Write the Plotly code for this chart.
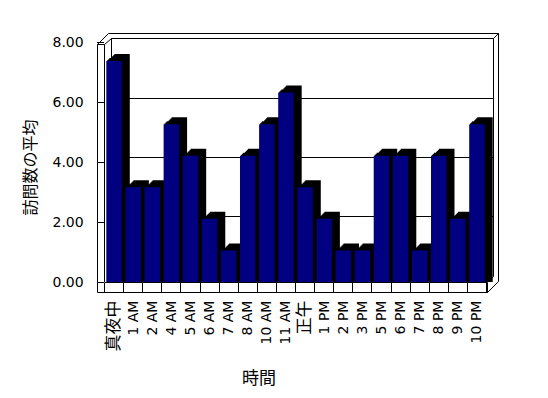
import plotly.graph_objects as go

# ---- data ----
categories = ["真夜中", "1 AM", "2 AM", "4 AM", "5 AM", "6 AM", "7 AM", "8 AM", "10 AM", "11 AM",
              "正午", "1 PM", "2 PM", "3 PM", "5 PM", "6 PM", "7 PM", "8 PM", "9 PM", "10 PM"]
avg_visits = [7.37, 3.16, 3.16, 5.26, 4.21, 2.11, 1.05, 4.21, 5.26, 6.32,
              3.16, 2.11, 1.05, 1.05, 4.21, 4.21, 1.05, 4.21, 2.11, 5.26]
y_ticks = [0, 2, 4, 6, 8]
x_title = "時間"
y_title = "訪問数の平均"

# ---- geometry (screen pixels) ----
OFF = 8                      # default page body margin
W, H = 548 - OFF, 398 - OFF  # figure size
X0, X1 = 104.5, 486.5        # front plane x extent
Y0, Y8 = 282, 42             # front plane: value 0 and value 8
DX, DY = 8, 7                # 3D extrusion offset
PXU = (Y0 - Y8) / 8.0        # pixels per unit
NCAT = len(categories)


def px(x):
    return (x - OFF) / W


def py(y):
    return (H - (y - OFF)) / H


FONT = "DejaVu Sans, Noto Sans CJK JP"
CJK = "Noto Sans CJK JP, DejaVu Sans"


def tick_label(s):
    if any(ord(c) > 0x2E80 for c in s):
        return f"<span style=\"font-family:'Noto Sans CJK JP';font-size:17px\">{s}</span>"
    return s


fig = go.Figure()
layout_axes = {}

# back wall subplot (grid only)
fig.add_trace(go.Scatter(x=[0], y=[0], mode="markers", marker=dict(opacity=0),
                         hoverinfo="skip", showlegend=False, xaxis="x", yaxis="y"))
back_top, back_bot = 39.1, 275.9
layout_axes["xaxis"] = dict(domain=[px(111), px(493)], range=[0, 1], showgrid=False, zeroline=False,
                            showticklabels=False, showline=False, ticks="", anchor="y", automargin=False)
layout_axes["yaxis"] = dict(domain=[py(back_bot), py(back_top)], range=[0, 8], tickvals=[2, 4, 6, 8],
                            showgrid=True, gridcolor="black", gridwidth=1, zeroline=False,
                            showticklabels=False, showline=False, ticks="", anchor="x", automargin=False)

# side / top extrusion: stacked shifted copies (subplots 2..8)
for k in range(1, DY + 1):
    n = k + 1
    sx = round(k * DX / DY)
    sy = k
    fig.add_trace(go.Bar(x=categories, y=[v + sy / PXU for v in avg_visits], base=-sy / PXU,
                         marker=dict(color="#000000", line=dict(width=0)),
                         hoverinfo="skip", showlegend=False, xaxis=f"x{n}", yaxis=f"y{n}"))
    layout_axes[f"xaxis{n}"] = dict(domain=[px(X0 + sx), px(X1 + sx)], type="category",
                                    range=[-0.5, NCAT - 0.5], visible=False, anchor=f"y{n}",
                                    automargin=False)
    layout_axes[f"yaxis{n}"] = dict(domain=[py(Y0), py(Y8 - sy)], range=[-sy / PXU, 8], visible=False,
                                    anchor=f"x{n}", automargin=False)

# front faces (subplot 9)
fig.add_trace(go.Bar(x=categories, y=avg_visits,
                     marker=dict(color="#000080", line=dict(width=0)),
                     showlegend=False, xaxis="x9", yaxis="y9"))
layout_axes["xaxis9"] = dict(domain=[px(X0), px(X1)], type="category", range=[-0.5, NCAT - 0.5],
                             tickmode="array", tickvals=categories,
                             ticktext=[tick_label(c) for c in categories],
                             ticks="outside", tickson="boundaries", ticklen=10, tickcolor="black",
                             tickwidth=1, showline=True, linecolor="black", linewidth=1,
                             showgrid=False, zeroline=False, tickangle=-90,
                             tickfont=dict(family=FONT, size=14, color="black"),
                             ticklabelstandoff=12, anchor="y9", automargin=False)
layout_axes["yaxis9"] = dict(domain=[py(Y0), py(Y8)], range=[0, 8], tickvals=y_ticks, tickformat=".2f",
                             ticks="outside", ticklen=7, tickcolor="black", tickwidth=1,
                             showline=False, showgrid=False, zeroline=False,
                             tickfont=dict(family=FONT, size=14, color="black"),
                             ticklabelstandoff=10, anchor="x9", automargin=False)

# wall / floor outline segments (pixels)
segs = [
    ((97, 44), (97, 292)),
    ((104, 44), (104, 282)),
    ((97, 44), (104, 44)),
    ((97, 44), (108, 33)),
    ((104, 44), (111, 38)),
    ((111, 38), (111, 276)),
    ((108, 33), (498, 33)),
    ((111, 38), (493, 38)),
    ((493, 38), (498, 33)),
    ((498, 33), (498, 281)),
    ((493, 38), (493, 276)),
    ((97, 292), (487, 292)),
    ((487, 282), (487, 292)),
    ((487, 292), (498, 281)),
    ((487, 282), (493, 276)),
]
shapes = []
for (xa, ya), (xb, yb) in segs:
    shapes.append(dict(type="line", xref="paper", yref="paper",
                       x0=px(xa + 0.5), y0=py(ya + 0.5), x1=px(xb + 0.5), y1=py(yb + 0.5),
                       line=dict(color="black", width=1), layer="below"))

fig.update_layout(
    template="none",
    width=W, height=H,
    margin=dict(l=0, r=0, t=0, b=0, autoexpand=False),
    paper_bgcolor="white", plot_bgcolor="rgba(0,0,0,0)",
    bargap=0.19,
    shapes=shapes,
    annotations=[
        dict(text=x_title, xref="paper", yref="paper", x=px(259), y=py(376),
             showarrow=False, xanchor="center", yanchor="middle",
             font=dict(family=CJK, size=17, color="black")),
        dict(text=y_title, xref="paper", yref="paper", x=px(28), y=py(167.5),
             showarrow=False, xanchor="center", yanchor="middle", textangle=-90,
             font=dict(family=CJK, size=16, color="black")),
    ],
    **layout_axes,
)

fig.write_html("out.html")
